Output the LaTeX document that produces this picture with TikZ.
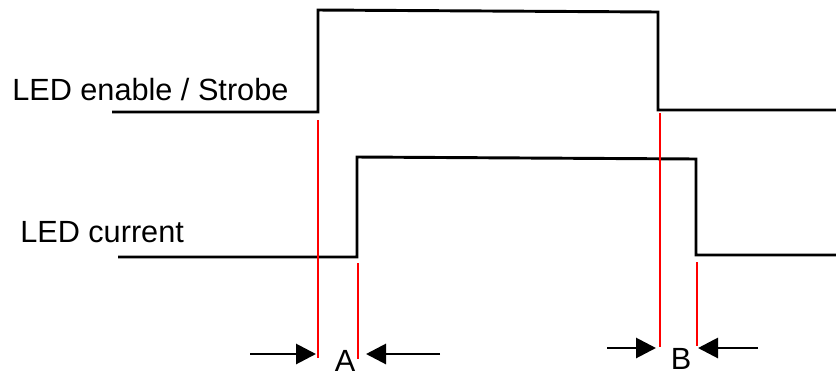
\documentclass[tikz,border=0pt]{standalone}
\usepackage{fontspec}
\setmainfont{Liberation Sans}
\usepackage{tikz}
\usetikzlibrary{arrows.meta,positioning}

\tikzset{
    signal/.style={line width=2.2pt, line join=miter},
    marker/.style={color=red, line width=0.8pt},
    gaparrow/.style={line width=2.2pt, -{Triangle[length=15pt,width=15pt]}},
    siglabel/.style={font=\fontsize{23}{28}\selectfont, anchor=base west, inner sep=0pt},
    gaplabel/.style={font=\fontsize{23}{28}\selectfont, anchor=base, inner sep=0pt}
}

\begin{document}
\begin{tikzpicture}[x=0.75pt,y=-0.75pt]
    \useasboundingbox (0,0) rectangle (836,376);

    % signal names
    \node[siglabel] (strobe) at (12,100) {LED enable / Strobe};
    \node[siglabel] (current) at (20,242) {LED current};

    % waveforms
    \draw[signal] (112,112) -- (318,112) -- (318,10) -- (658,12) -- (658,110) -- (836,110);
    \draw[signal] (118,257) -- (357,257) -- (357,157) -- (696,159) -- (696,255) -- (836,255);

    % edge markers
    \coordinate (onA) at (318,120);
    \coordinate (onAend) at (318,358);
    \coordinate (riseA) at (358,263);
    \coordinate (riseAend) at (358,359);
    \coordinate (offB) at (660,113);
    \coordinate (offBend) at (660,347);
    \coordinate (fallB) at (697,262);
    \coordinate (fallBend) at (697,346);

    \draw[marker] (onA) -- (onAend);
    \draw[marker] (riseA) -- (riseAend);
    \draw[marker] (offB) -- (offBend);
    \draw[marker] (fallB) -- (fallBend);

    % delay A
    \node[gaplabel] (A) at (345,371) {A};
    \coordinate (aL) at (250,354);
    \coordinate (aLtip) at (316,354);
    \coordinate (aR) at (440,354);
    \coordinate (aRtip) at (366,354);
    \draw[gaparrow] (aL) -- (aLtip);
    \draw[gaparrow] (aR) -- (aRtip);

    % delay B
    \node[gaplabel] (B) at (681,369) {B};
    \coordinate (bL) at (607,348);
    \coordinate (bLtip) at (656,348);
    \coordinate (bR) at (758,348);
    \coordinate (bRtip) at (698,348);
    \draw[gaparrow] (bL) -- (bLtip);
    \draw[gaparrow] (bR) -- (bRtip);
\end{tikzpicture}
\end{document}
